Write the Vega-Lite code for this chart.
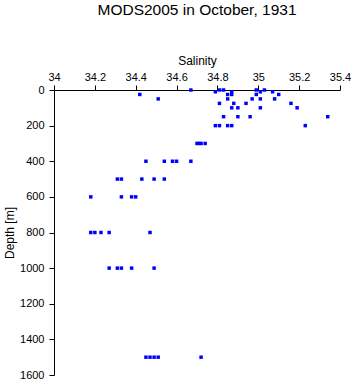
{
  "$schema": "https://vega.github.io/schema/vega-lite/v6.json",
  "autosize": "none",
  "width": 286,
  "height": 285,
  "padding": {"left": 54, "top": 90, "right": 13, "bottom": 9},
  "background": "white",
  "title": {"text": "MODS2005 in October, 1931", "font": "Liberation Sans", "fontSize": 15.5, "fontWeight": "normal", "color": "black", "anchor": "middle", "offset": 36},
  "config": {"view": {"stroke": null}},
  "data": {"values": [
    {"s": 34.67, "d": 0}, {"s": 34.79, "d": 10}, {"s": 34.81, "d": 0}, {"s": 34.83, "d": 0}, {"s": 34.87, "d": 10},
    {"s": 34.99, "d": 0}, {"s": 35.01, "d": 10}, {"s": 35.03, "d": 0}, {"s": 35.07, "d": 10},
    {"s": 34.42, "d": 25}, {"s": 34.85, "d": 25}, {"s": 34.87, "d": 25}, {"s": 34.99, "d": 25}, {"s": 35.10, "d": 25},
    {"s": 34.51, "d": 50}, {"s": 34.85, "d": 50}, {"s": 34.97, "d": 50}, {"s": 35.01, "d": 50}, {"s": 35.08, "d": 50},
    {"s": 34.81, "d": 75}, {"s": 34.88, "d": 75}, {"s": 34.94, "d": 75}, {"s": 35.16, "d": 75},
    {"s": 34.87, "d": 100}, {"s": 34.90, "d": 100}, {"s": 35.01, "d": 100}, {"s": 35.19, "d": 100},
    {"s": 34.83, "d": 150}, {"s": 34.90, "d": 150}, {"s": 34.96, "d": 150}, {"s": 35.34, "d": 150},
    {"s": 34.79, "d": 200}, {"s": 34.81, "d": 200}, {"s": 34.85, "d": 200}, {"s": 34.87, "d": 200}, {"s": 35.23, "d": 200},
    {"s": 34.70, "d": 300}, {"s": 34.71, "d": 300}, {"s": 34.72, "d": 300}, {"s": 34.74, "d": 300},
    {"s": 34.45, "d": 400}, {"s": 34.54, "d": 400}, {"s": 34.58, "d": 400}, {"s": 34.60, "d": 400}, {"s": 34.67, "d": 400},
    {"s": 34.31, "d": 500}, {"s": 34.33, "d": 500}, {"s": 34.43, "d": 500}, {"s": 34.49, "d": 500}, {"s": 34.54, "d": 500},
    {"s": 34.18, "d": 600}, {"s": 34.33, "d": 600}, {"s": 34.38, "d": 600}, {"s": 34.40, "d": 600},
    {"s": 34.18, "d": 800}, {"s": 34.20, "d": 800}, {"s": 34.23, "d": 800}, {"s": 34.27, "d": 800}, {"s": 34.47, "d": 800},
    {"s": 34.27, "d": 1000}, {"s": 34.31, "d": 1000}, {"s": 34.33, "d": 1000}, {"s": 34.38, "d": 1000}, {"s": 34.49, "d": 1000},
    {"s": 34.45, "d": 1500}, {"s": 34.47, "d": 1500}, {"s": 34.49, "d": 1500}, {"s": 34.51, "d": 1500}, {"s": 34.72, "d": 1500}
  ]},
  "mark": {"type": "square", "filled": true, "color": "#0000ff", "size": 12, "opacity": 1},
  "encoding": {
    "x": {"field": "s", "type": "quantitative", "title": "Salinity",
      "scale": {"domain": [34, 35.4], "nice": false, "zero": false},
      "axis": {"orient": "top", "values": [34, 34.2, 34.4, 34.6, 34.8, 35, 35.2, 35.4], "format": "~g", "grid": false,
        "domainColor": "black", "tickColor": "black", "tickSize": 5, "labelFont": "Liberation Sans", "labelFontSize": 11, "labelColor": "black",
        "titleFont": "Liberation Sans", "titleFontSize": 12, "titleFontWeight": "normal", "titleColor": "black", "labelPadding": 3, "titlePadding": 4, "labelFlush": false}},
    "y": {"field": "d", "type": "quantitative", "title": "Depth [m]",
      "scale": {"domain": [0, 1600], "reverse": true, "nice": false},
      "axis": {"values": [0, 200, 400, 600, 800, 1000, 1200, 1400, 1600], "format": "d", "grid": false,
        "domainColor": "black", "tickColor": "black", "tickSize": 5, "labelFont": "Liberation Sans", "labelFontSize": 11, "labelColor": "black",
        "titleFont": "Liberation Sans", "titleFontSize": 12, "titleFontWeight": "normal", "titleColor": "black", "labelPadding": 5, "titlePadding": 3, "labelFlush": false}}
  }
}
